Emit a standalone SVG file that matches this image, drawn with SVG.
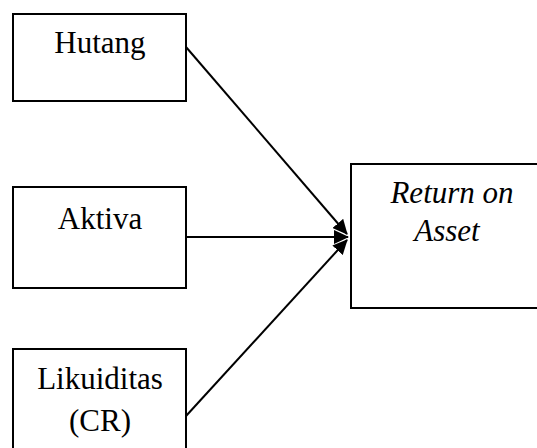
<svg xmlns="http://www.w3.org/2000/svg" width="537" height="448" viewBox="0 0 537 448">
<defs>
<style>
.box{fill:#fff;stroke:#000;stroke-width:2}
.t{font-family:"Liberation Serif","Times New Roman",serif;font-size:31px;fill:#000;text-anchor:middle}
.i{font-style:italic}
.c{stroke:#000;stroke-width:2;fill:none}
</style>
<marker id="ah" viewBox="0 0 15 14" refX="14" refY="7" markerWidth="7.5" markerHeight="7" orient="auto" markerUnits="strokeWidth">
<path d="M0,0 L15,7 L0,14 Z" fill="#000"/>
</marker>
</defs>
<rect width="537" height="448" fill="#fff"/>
<g id="hutang">
<rect class="box" x="13" y="14" width="173" height="87"/>
<text class="t" x="100" y="53">Hutang</text>
</g>
<g id="aktiva">
<rect class="box" x="13" y="187" width="173" height="101"/>
<text class="t" x="100" y="229">Aktiva</text>
</g>
<g id="likuiditas">
<rect class="box" x="13" y="349" width="173" height="110"/>
<text class="t" x="100" y="389">Likuiditas</text>
<text class="t" x="100" y="431">(CR)</text>
</g>
<g id="roa">
<rect class="box" x="351" y="164" width="200" height="144"/>
<text class="t i" x="452" y="203">Return on</text>
<text class="t i" x="447" y="241">Asset</text>
</g>
<g id="connectors">
<line class="c" x1="186" y1="47" x2="347" y2="234" marker-end="url(#ah)"/>
<line class="c" x1="186" y1="237" x2="348" y2="237" marker-end="url(#ah)"/>
<line class="c" x1="186" y1="416" x2="347" y2="240" marker-end="url(#ah)"/>
</g>
</svg>
